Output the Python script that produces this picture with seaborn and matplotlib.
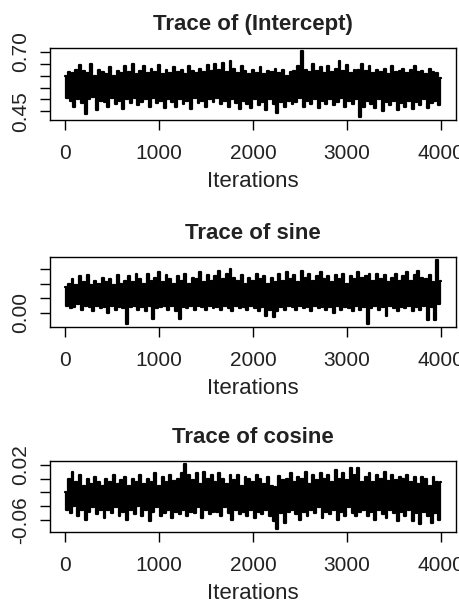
import numpy as np
import pandas as pd
import seaborn as sns
import matplotlib
matplotlib.use("Agg")
import matplotlib.pyplot as plt
from matplotlib.ticker import FixedLocator, FixedFormatter

# %% data (values x1000, one every 20 iterations)

iterations = list(range(0, 4001, 20))

intercept_k = [
    600, 505, 615, 495, 610, 470, 625, 500, 645, 485, 620, 440, 610, 500, 650, 510, 600, 455, 625, 495,
    615, 490, 605, 470, 635, 505, 600, 480, 620, 495, 610, 460, 640, 500, 615, 485, 650, 505, 605, 475,
    620, 490, 640, 500, 610, 470, 630, 505, 615, 485, 645, 495, 605, 465, 625, 500, 610, 490, 635, 470,
    615, 500, 625, 480, 605, 495, 640, 460, 620, 505, 610, 485, 630, 495, 615, 470, 645, 500, 620, 490,
    650, 505, 625, 480, 655, 495, 615, 470, 660, 500, 630, 485, 610, 460, 640, 495, 620, 480, 605, 465,
    625, 500, 610, 475, 635, 490, 605, 455, 620, 500, 615, 480, 630, 445, 610, 490, 625, 470, 600, 495,
    615, 480, 620, 490, 640, 505, 705, 470, 625, 495, 615, 480, 650, 500, 620, 465, 635, 495, 610, 480,
    640, 500, 615, 475, 630, 490, 660, 505, 620, 470, 645, 495, 610, 480, 625, 500, 625, 425, 650, 470,
    620, 495, 640, 480, 610, 465, 625, 500, 615, 450, 630, 490, 605, 475, 640, 495, 615, 455, 620, 485,
    630, 470, 610, 495, 625, 460, 640, 490, 615, 475, 620, 500, 605, 465, 630, 485, 615, 495, 610, 475,
    590,
]

sine_k = [
    90, 25, 100, 15, 115, 20, 95, 30, 125, 10, 105, 25, 130, 20, 95, 5, 110, 25, 100, 15,
    120, 20, 105, 0, 115, 25, 95, 10, 130, 20, 100, 15, 110, -40, 125, 20, 105, 25, 135, 10,
    115, 20, 100, 5, 135, 25, 110, -20, 120, 15, 140, 20, 105, 25, 130, 10, 115, 25, 100, 5,
    125, -22, 110, 20, 135, 15, 100, 25, 120, 10, 115, 25, 140, 20, 105, 10, 130, 25, 110, 15,
    125, 20, 145, 10, 115, 25, 135, 15, 150, 5, 120, 25, 110, 15, 130, 20, 100, 10, 120, 25,
    110, 15, 135, 5, 115, 20, 125, -10, 100, 10, 120, -15, 105, 5, 135, 20, 110, 10, 140, 25,
    115, 20, 130, 10, 105, 25, 145, 15, 120, 20, 135, 5, 110, 25, 125, 15, 140, 20, 115, 10,
    125, 20, 105, 0, 130, 25, 115, 10, 135, 20, 100, 15, 125, 5, 115, 25, 140, 10, 120, 20,
    125, -38, 135, 15, 110, 25, 135, 10, 115, 20, 130, -10, 105, 25, 120, 15, 135, 5, 110, 20,
    125, 15, 140, 25, 110, 5, 130, 20, 145, 10, 120, 25, 115, -25, 130, 20, 105, -25, 183, 30,
    110,
]

cosine_k = [
    -20, -45, 0, -50, 10, -40, -5, -55, 5, -45, -10, -60, 0, -48, -8, -42, 2, -52, -5, -45,
    -10, -58, 0, -45, -5, -50, 5, -42, -8, -55, -2, -48, 3, -60, -10, -45, 0, -52, -5, -40,
    5, -55, -8, -45, 0, -62, -5, -48, 8, -42, -10, -55, 2, -50, -5, -45, 5, -58, -3, -48,
    0, -52, 8, -45, 22, -55, 5, -48, -2, -50, 8, -42, -8, -58, 10, -45, 0, -52, 5, -48,
    -5, -48, 8, -55, 0, -42, -8, -50, 5, -60, -2, -45, 6, -52, -10, -48, 3, -55, 0, -45,
    -5, -58, 5, -48, 0, -52, -8, -45, 2, -55, -10, -62, -12, -74, 4, -50, -2, -65, 0, -48,
    8, -45, -5, -52, 3, -60, 0, -48, 10, -55, -8, -45, 5, -50, -2, -42, 8, -58, 0, -48,
    5, -52, -5, -45, 12, -60, 0, -48, 8, -55, -2, -42, 15, -50, 5, -55, 16, -48, -5, -45,
    2, -55, 8, -48, -5, -60, 5, -45, 0, -52, 10, -58, -3, -45, 5, -50, -2, -62, 3, -48,
    0, -55, 5, -45, -5, -62, 2, -50, -8, -66, 3, -48, 0, -55, -10, -65, 2, -50, -5, -60,
    -5,
]

titles = ["Trace of (Intercept)", "Trace of sine", "Trace of cosine"]
series = [intercept_k, sine_k, cosine_k]
y_ticks = [[0.45, 0.50, 0.55, 0.60, 0.65, 0.70],
           [0.00, 0.05, 0.10, 0.15],
           [-0.06, -0.04, -0.02, 0.00, 0.02]]
y_labels = [["0.45", "", "", "", "", "0.70"],
            ["0.00", "", "", ""],
            ["-0.06", "", "", "", "0.02"]]
x_ticks = [0, 1000, 2000, 3000, 4000]

# %% plot

sns.set_theme(style="ticks")
plt.rcParams['font.family'] = ['Liberation Sans', 'DejaVu Sans']

fig = plt.figure(figsize=(4.6, 6.11), dpi=100)
W, H = 460, 611
boxes = [(48, 120), (257, 327), (461, 532)]  # top/bottom in px
left_px, right_px = 50, 456


def r_lim(lo, hi):
    # R style 4% extension
    d = (hi - lo) * 0.04
    return lo - d, hi + d


for k in range(3):
    top, bot = boxes[k]
    ax = fig.add_axes([left_px / W, 1 - bot / H, (right_px - left_px) / W, (bot - top) / H])
    df = pd.DataFrame({"Iterations": iterations, "value": np.array(series[k]) / 1000.0})
    # steps give the vertical-stroke look of a dense trace
    sns.lineplot(data=df, x="Iterations", y="value", ax=ax, color="black",
                 linewidth=1.6, drawstyle="steps-mid")

    ax.set_xlim(r_lim(0, 4000))
    ax.set_ylim(r_lim(df["value"].min(), df["value"].max()))

    ax.xaxis.set_major_locator(FixedLocator(x_ticks))
    ax.yaxis.set_major_locator(FixedLocator(y_ticks[k]))
    ax.yaxis.set_major_formatter(FixedFormatter(y_labels[k]))

    ax.set_title(titles[k], fontsize=16, fontweight="bold", pad=13, color="#222222")
    ax.set_xlabel("Iterations", fontsize=16, labelpad=6, color="#222222")
    ax.set_ylabel("")

    ax.tick_params(axis="both", which="major", length=7, width=1, color="black",
                   labelsize=15, labelcolor="#222222")
    ax.tick_params(axis="x", pad=10)
    ax.tick_params(axis="y", pad=7, labelrotation=90)
    for lab in ax.get_yticklabels():
        lab.set_verticalalignment("center")

    for s in ax.spines.values():
        s.set_visible(True)
        s.set_linewidth(1)
        s.set_color("black")

fig.savefig("out.png", dpi=100)
